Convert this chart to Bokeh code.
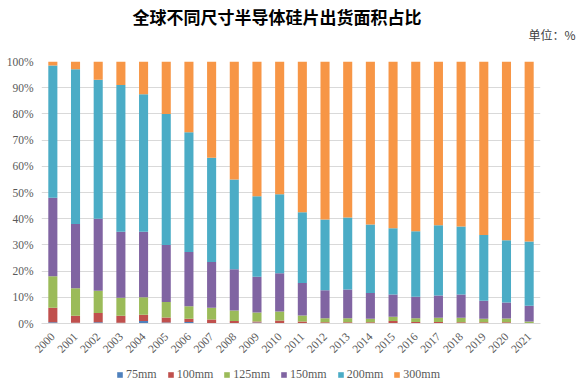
import math
from bokeh.plotting import figure
from bokeh.layouts import column
from bokeh.models import (FactorRange, Range1d, FixedTicker, PrintfTickFormatter,
                          Legend, LegendItem, ColumnDataSource)
from bokeh.core.properties import value
from bokeh.embed import file_html
from bokeh.resources import INLINE

years = ["2000", "2001", "2002", "2003", "2004", "2005", "2006", "2007", "2008", "2009", "2010",
         "2011", "2012", "2013", "2014", "2015", "2016", "2017", "2018", "2019", "2020", "2021"]
series_names = ["75mm", "100mm", "125mm", "150mm", "200mm", "300mm"]
mm75 = [0.5, 0.3, 0.5, 0.3, 1.0, 0.4, 0.6, 0.2, 0.2, 0.4, 0.2, 0.1, 0.1, 0.1, 0.1, 0.1, 0.1, 0.1, 0.1, 0.1, 0.1, 0.0]
mm100 = [5.5, 2.7, 3.5, 2.7, 2.3, 1.9, 1.2, 1.3, 0.8, 0.4, 0.9, 0.7, 0.4, 0.4, 0.4, 0.9, 0.5, 0.5, 0.4, 0.4, 0.4, 0.2]
mm125 = [12.0, 10.5, 8.5, 6.8, 6.7, 5.9, 4.8, 4.5, 4.0, 3.4, 3.5, 2.3, 1.5, 1.5, 1.3, 1.6, 1.4, 1.6, 1.7, 1.3, 1.4, 0.6]
mm150 = [30.0, 24.5, 27.5, 25.2, 25.0, 21.8, 20.7, 17.5, 15.7, 13.6, 14.6, 12.4, 10.7, 11.0, 9.8, 8.5, 8.2, 8.5, 8.9, 6.9, 6.1, 6.0]
mm200 = [50.5, 59.0, 53.0, 56.0, 52.5, 50.0, 45.7, 39.8, 34.3, 30.8, 30.1, 27.0, 27.0, 27.5, 26.2, 25.3, 25.0, 26.8, 25.9, 25.1, 23.8, 24.5]
mm300 = [1.5, 3.0, 7.0, 9.0, 12.5, 20.0, 27.0, 36.7, 45.0, 51.4, 50.7, 57.5, 60.3, 59.5, 62.2, 63.6, 64.8, 62.5, 63.0, 66.2, 68.2, 68.7]
y_ticks = [0, 10, 20, 30, 40, 50, 60, 70, 80, 90, 100]
title_text = "全球不同尺寸半导体硅片出货面积占比"
unit_text = "单位：%"

colors = ["#4F81BD", "#C0504D", "#9BBB59", "#8064A2", "#4BACC6", "#F79646"]
serif = "Liberation Serif"

W = 576
BL, BR = 41, 36
HEAD_H = 51
MAIN_H = 312
FOOT_H = 20

# ---- header (title + unit); full-width frame, x in figure pixels ----
head = figure(width=W, height=HEAD_H, x_range=Range1d(0, W), y_range=Range1d(0, HEAD_H),
              output_backend="svg", toolbar_location=None, min_border=0)
head.frame_align = False
head.axis.visible = False
head.grid.visible = False
head.outline_line_color = None
head.text(x=[132], y=[35], text=[title_text], text_font=value("Noto Sans CJK SC"),
          text_font_size="17px", text_font_style="bold", text_color="#000000",
          text_align="left", text_baseline="middle")
head.text(x=[575], y=[17], text=[unit_text], text_font=value("Noto Sans CJK SC"),
          text_font_size="12px", text_color="#404040",
          text_align="right", text_baseline="middle")

# ---- main chart ----
source = ColumnDataSource(data={"year": years, "75mm": mm75, "100mm": mm100, "125mm": mm125,
                                "150mm": mm150, "200mm": mm200, "300mm": mm300})

p = figure(x_range=FactorRange(*years, range_padding=0), y_range=Range1d(0, 100),
           width=W, height=MAIN_H, output_backend="svg", toolbar_location=None,
           min_border_left=BL, min_border_right=BR, min_border_top=10, min_border_bottom=40)
p.outline_line_color = None

p.vbar_stack(series_names, x="year", width=0.4, color=colors, source=source, line_color=None)

p.yaxis.ticker = FixedTicker(ticks=y_ticks)
p.yaxis.formatter = PrintfTickFormatter(format="%d%%")
p.yaxis.axis_line_color = None
p.yaxis.major_tick_line_color = None
p.yaxis.minor_tick_line_color = None
p.yaxis.major_tick_out = 0
p.yaxis.major_label_standoff = 8
p.yaxis.major_label_text_font = serif
p.yaxis.major_label_text_font_size = "11.5px"
p.yaxis.major_label_text_color = "#595959"

p.xaxis.axis_line_color = "#D9D9D9"
p.xaxis.major_tick_line_color = None
p.xaxis.major_tick_out = 0
p.xaxis.major_label_orientation = math.pi / 4
p.xaxis.major_label_standoff = 11
p.xaxis.major_label_text_font = serif
p.xaxis.major_label_text_font_size = "11.5px"
p.xaxis.major_label_text_color = "#595959"

p.xgrid.grid_line_color = None
p.ygrid.grid_line_color = "#D9D9D9"
p.ygrid.grid_line_width = 1

# ---- footer with legend ----
foot = figure(width=W, height=FOOT_H, x_range=Range1d(0, 1), y_range=Range1d(0, 1),
              output_backend="svg", toolbar_location=None,
              min_border_left=BL, min_border_right=BR, min_border_top=0, min_border_bottom=0)
foot.axis.visible = False
foot.grid.visible = False
foot.outline_line_color = None
proxies = [foot.vbar(x=[0.5], top=[0], bottom=[0], width=0.0, color=c, line_color=None) for c in colors]
items = [LegendItem(label=n, renderers=[r]) for n, r in zip(series_names, proxies)]
legend = Legend(items=items, orientation="horizontal", location=(75, 1),
                label_text_font=serif, label_text_font_size="12px", label_text_color="#595959",
                glyph_width=7, glyph_height=7, label_standoff=3, spacing=10,
                label_height=10, padding=0, margin=0, border_line_color=None,
                background_fill_alpha=0)
foot.add_layout(legend, "center")

layout = column(head, p, foot, spacing=0)
open("out.html", "w").write(file_html(layout, INLINE))
